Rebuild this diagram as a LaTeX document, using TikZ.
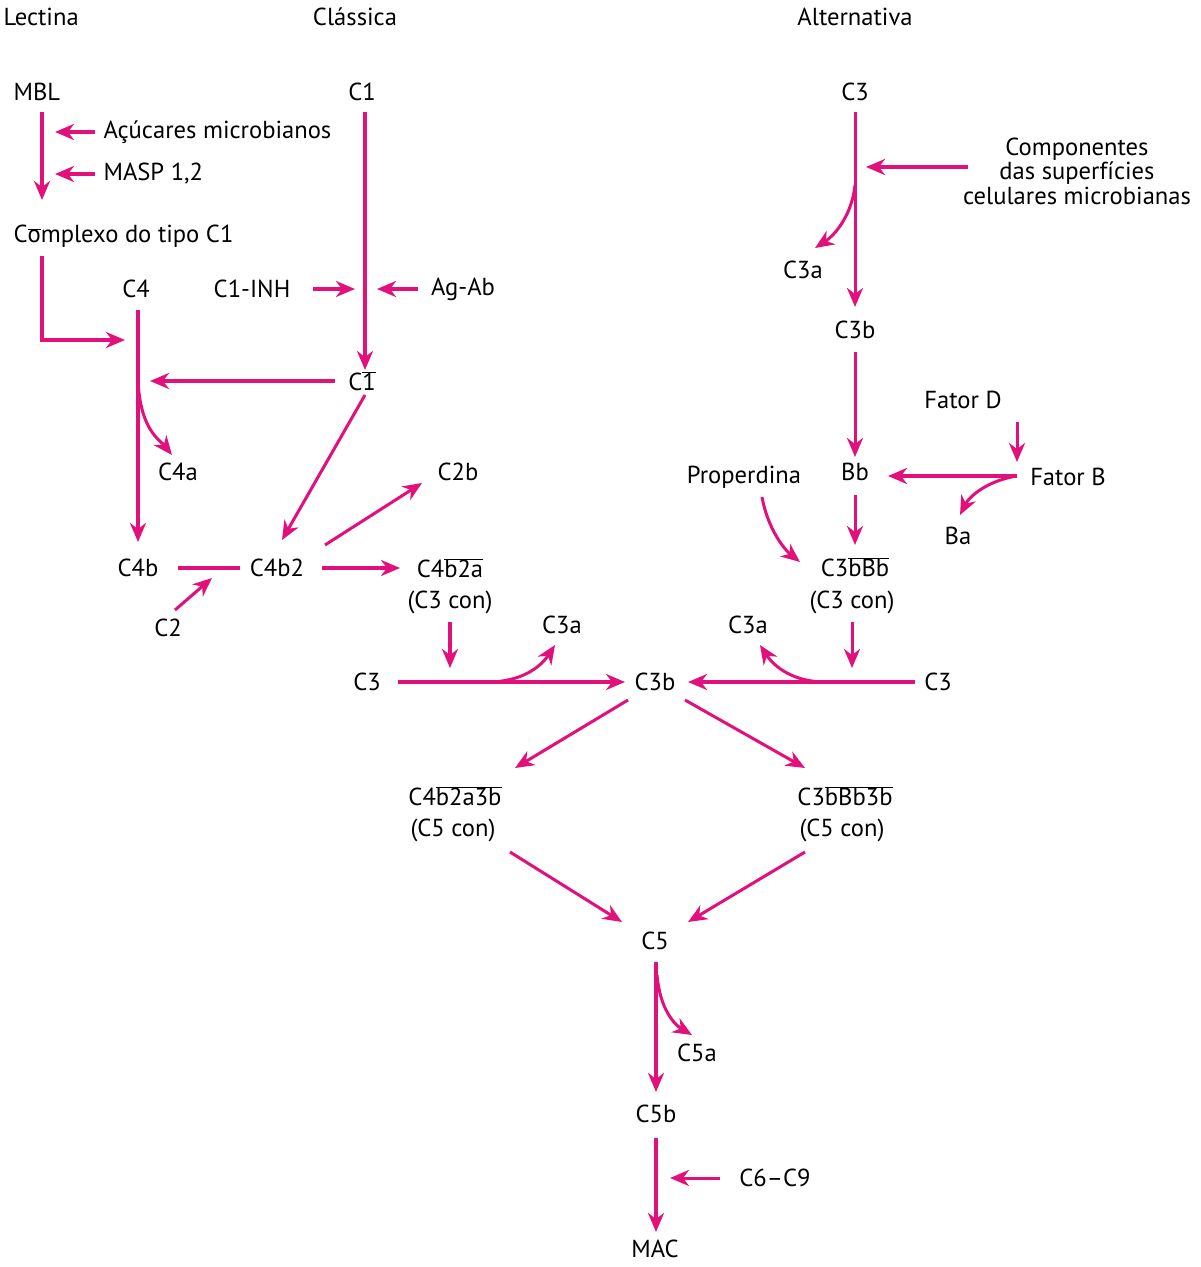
\documentclass[tikz,border=0pt]{standalone}
\usepackage{fontspec}
\setmainfont{PT Sans}
\usetikzlibrary{arrows.meta}
\definecolor{mag}{RGB}{226,16,122}
\begin{document}
\begin{tikzpicture}[x=0.05cm,y=-0.05cm,
  every node/.style={font=\fontsize{35}{42}\selectfont,inner sep=2pt,align=center},
  a/.style={mag,line width=4.3pt,-{Stealth[length=0.95cm,width=0.8cm,inset=0.3cm]}},
  l/.style={mag,line width=4.3pt}]
\useasboundingbox (0,0) rectangle (1200,1267);
\node[anchor=west] (lec) at (2,17) {Lectina};
\node (cla) at (355,17) {Clássica};
\node (alt) at (855,17) {Alternativa};
\node[anchor=west] (mbl) at (12,92) {MBL};
\node[anchor=west] (acu) at (102,132) {Açúcares microbianos};
\node[anchor=west] (masp) at (102,174) {MASP 1,2};
\node[anchor=west] (cpx) at (12,236) {C$\overline{\mbox{o}}$mplexo do tipo C1};
\node (c4) at (136,289) {C4};
\node (c1) at (362,92) {C1};
\node (inh) at (252,289) {C1-INH};
\node (agab) at (463,289) {Ag-Ab};
\node (c1b) at (362,381) {C$\overline{\mbox{1}}$};
\node (c4a) at (178,472) {C4a};
\node (c4b) at (138,568) {C4b};
\node (c2) at (168,628) {C2};
\node (c4b2) at (277,568) {C4b2};
\node (c2b) at (458,472) {C2b};
\node (c4b2a) at (450,568) {C4$\overline{\mbox{b2a}}$};
\node (c3con1) at (450,602) {(C3 con)};
\node (c3l) at (367,682) {C3};
\node (c3al) at (562,625) {C3a};
\node (c3b) at (655,682) {C3b};
\node (c3r) at (938,682) {C3};
\node (c3ar) at (748,625) {C3a};
\node (ac3) at (855,92) {C3};
\node[font=\fontsize{35}{35}\selectfont] (comp) at (1077,171) {Componentes\\das superfícies\\celulares microbianas};
\node (ac3a) at (803,270) {C3a};
\node (ac3b) at (855,330) {C3b};
\node (bb) at (855,472) {Bb};
\node (fd) at (963,400) {Fator D};
\node (fb) at (1068,477) {Fator B};
\node (ba) at (958,536) {Ba};
\node (prop) at (744,477) {Properdina};
\node (c3bbb) at (855,567) {C3$\overline{\mbox{bBb}}$};
\node (c3con2) at (852,602) {(C3 con)};
\node (c5l) at (455,796) {C4$\overline{\mbox{b2a3b}}$};
\node (c5conl) at (453,830) {(C5 con)};
\node (c5r) at (845,796) {C3$\overline{\mbox{bBb3b}}$};
\node (c5conr) at (842,830) {(C5 con)};
\node (c5) at (655,941) {C5};
\node (c5a) at (697,1053) {C5a};
\node (c5b) at (656,1114) {C5b};
\node (c69) at (775,1178) {C6–C9};
\node (mac) at (655,1249) {MAC};
% lectin
\draw[a] (42,112) -- (42,200);
\draw[a] (95,132) -- (55,132);
\draw[a] (95,174) -- (55,174);
\draw[a] (42,256) -- (42,340) -- (125,340);
\draw[a] (138,310) -- (138,542);
\draw[a] (138,380) .. controls (140,430) and (160,440) .. (172,455);
% classical
\draw[a] (365,112) -- (365,370);
\draw[a] (313,289) -- (355,289);
\draw[a] (418,289) -- (377,289);
\draw[a] (335,381) -- (150,381);
\draw[a] (365,395) -- (282,540);
\draw[l] (178,568) -- (240,568);
\draw[a] (175,610) -- (212,578);
\draw[a] (322,568) -- (400,568);
\draw[a] (325,545) -- (422,483);
\draw[a] (450,622) -- (450,668);
\draw[a] (398,682) -- (625,682);
\draw[a] (488,682) .. controls (520,682) and (540,668) .. (555,645);
% alternative
\draw[a] (855,112) -- (855,307);
\draw[a] (968,167) -- (866,167);
\draw[a] (855,185) .. controls (852,215) and (835,235) .. (815,248);
\draw[a] (855,352) -- (855,457);
\draw[a] (1017,422) -- (1017,462);
\draw[a] (1017,476) -- (888,476);
\draw[a] (1017,476) .. controls (990,480) and (970,495) .. (960,515);
\draw[a] (762,497) .. controls (768,530) and (785,550) .. (800,562);
\draw[a] (855,495) -- (855,545);
\draw[a] (852,622) -- (852,668);
\draw[a] (915,682) -- (688,682);
\draw[a] (825,682) .. controls (795,682) and (775,668) .. (760,645);
% terminal
\draw[a] (628,700) -- (515,768);
\draw[a] (685,700) -- (805,768);
\draw[a] (510,852) -- (622,922);
\draw[a] (805,852) -- (688,922);
\draw[a] (656,962) -- (656,1092);
\draw[a] (657,975) .. controls (660,1010) and (675,1025) .. (692,1035);
\draw[a] (656,1138) -- (656,1232);
\draw[a] (720,1178) -- (670,1178);
\end{tikzpicture}
\end{document}
